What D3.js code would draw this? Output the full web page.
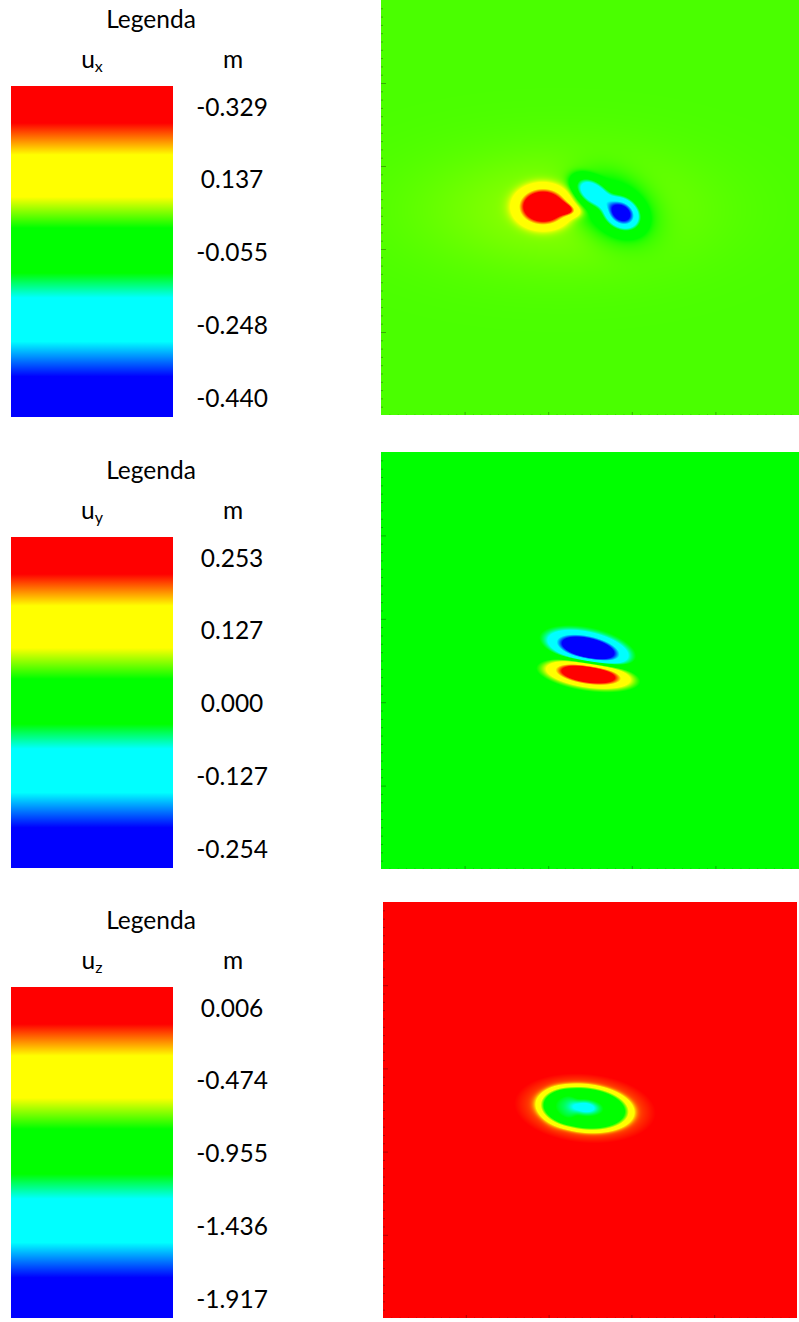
<!DOCTYPE html>
<html>
<head>
<meta charset="utf-8">
<script src="https://cdn.jsdelivr.net/npm/d3@7"></script>
<style>
  html, body { margin: 0; padding: 0; background: #ffffff; }
  svg { display: block; font-family: Lato, "Open Sans", sans-serif; }
</style>
</head>
<body>
<svg id="chart" width="799" height="1322"></svg>
<script>
// ---- Legend labels (as printed) and the numeric values they sit at ----
const uxLabels = ["-0.329", "0.137", "-0.055", "-0.248", "-0.440"];
const uxTicks  = [0.329, 0.137, -0.055, -0.248, -0.440];
const uyLabels = ["0.253", "0.127", "0.000", "-0.127", "-0.254"];
const uyTicks  = [0.253, 0.127, 0.000, -0.127, -0.254];
const uzLabels = ["0.006", "-0.474", "-0.955", "-1.436", "-1.917"];
const uzTicks  = [0.006, -0.474, -0.955, -1.436, -1.917];

// ---- Colour bands of the legend bar, top to bottom ----
const bandOffsets = [0, 0.112, 0.208, 0.335, 0.429, 0.565, 0.64, 0.772, 0.878, 1];
const bandColors  = ["#ff0000", "#ff0000", "#ffff00", "#ffff00", "#00ff00",
                     "#00ff00", "#00ffff", "#00ffff", "#0000ff", "#0000ff"];

// ---- Displacement lobes on a 5 x 5 plan grid ----
// each lobe: [cx, cy, sx, sy, angle (deg), amplitude (m), shape exponent]
const uxBase = 0.033;
const uxLobes = [
  [1.94, 2.51, 0.29, 0.22,   0,  0.40, 2.8],
  [2.21, 2.48, 0.15, 0.07, -12,  0.20, 2.0],
  [2.14, 2.47, 1.60, 0.70,   0,  0.022, 2.0],
  [2.88, 2.43, 0.22, 0.17, -35, -0.42, 2.5],
  [2.52, 2.69, 0.24, 0.145, -35, -0.24, 3.0],
  [2.78, 2.50, 0.45, 0.33, -30, -0.09, 2.0]
];
const uyBase = 0.0;
const uyLobes = [
  [2.48, 2.64, 0.40, 0.15, -13, -0.33, 2.6],
  [2.48, 2.34, 0.45, 0.135, -8,  0.30, 2.6],
  [2.48, 2.75, 0.72, 0.30, -10, -0.04, 2.0],
  [2.48, 2.27, 0.72, 0.26,  -8,  0.04, 2.0]
];
const uzBase = 0.0;
const uzLobes = [
  [2.44, 2.52, 0.556, 0.27, -6, -0.80, 8.0],
  [2.12, 2.54, 0.22,  0.25,  0, -0.08, 6.0],
  [2.44, 2.52, 0.845, 0.41, -5, -0.28, 2.0],
  [2.44, 2.53, 0.15,  0.07, -5, -0.30, 2.0]
];

const gridExtent = [0, 5];

const panels = [
  { labels: uxLabels, ticks: uxTicks, comp: "x", base: uxBase, lobes: uxLobes,
    top: 0,   map: { x: 381, y: 0,   w: 418, h: 415 } },
  { labels: uyLabels, ticks: uyTicks, comp: "y", base: uyBase, lobes: uyLobes,
    top: 451, map: { x: 381, y: 452, w: 418, h: 417 } },
  { labels: uzLabels, ticks: uzTicks, comp: "z", base: uzBase, lobes: uzLobes,
    top: 901, map: { x: 383, y: 902, w: 414, h: 416 } }
];

// legend bar geometry (relative to each panel's top)
const bar = { x: 11, y: 86, w: 162, h: 331 };
const labelOffsets = [21, 312];   // first and last label centre along the bar
const fontSize = 24.5;

const svg = d3.select("#chart");
const defs = svg.append("defs");

// shared gradient for the legend bars
const grad = defs.append("linearGradient")
  .attr("id", "bands").attr("x1", 0).attr("y1", 0).attr("x2", 0).attr("y2", 1);
grad.selectAll("stop").data(bandOffsets).join("stop")
  .attr("offset", d => d)
  .attr("stop-color", (d, i) => bandColors[i]);

const bandScale = d3.scaleLinear().domain(bandOffsets).range(bandColors)
  .interpolate(d3.interpolateRgb).clamp(true);

function fieldValue(lobes, base, x, y) {
  let v = base;
  for (const [cx, cy, sx, sy, ang, amp, p] of lobes) {
    const a = ang * Math.PI / 180, c = Math.cos(a), s = Math.sin(a);
    const dx = x - cx, dy = y - cy;
    const u = (dx * c + dy * s) / sx, w = (-dx * s + dy * c) / sy;
    v += amp * Math.exp(-Math.pow(u * u + w * w, p / 2));
  }
  return v;
}

panels.forEach(P => {
  const g = svg.append("g").attr("transform", `translate(0,${P.top})`);

  // position along the bar for a value, from the printed label spacing
  const barPos = d3.scaleLinear()
    .domain([P.ticks[0], P.ticks[P.ticks.length - 1]])
    .range(labelOffsets);
  const colour = v => bandScale(barPos(v) / bar.h);

  // ---- legend ----
  g.append("text").attr("x", 151).attr("y", 28)
    .attr("text-anchor", "middle").attr("font-size", fontSize).attr("fill", "#000")
    .text("Legenda");
  const sym = g.append("text").attr("x", 92).attr("y", 68)
    .attr("text-anchor", "middle").attr("font-size", fontSize).attr("fill", "#000");
  sym.append("tspan").text("u");
  sym.append("tspan").attr("font-size", 16).attr("dy", 4).text(P.comp);
  g.append("text").attr("x", 233).attr("y", 68)
    .attr("text-anchor", "middle").attr("font-size", fontSize).attr("fill", "#000")
    .text("m");

  g.append("rect").attr("x", bar.x).attr("y", bar.y)
    .attr("width", bar.w).attr("height", bar.h).attr("fill", "url(#bands)");

  g.selectAll("text.lab").data(P.ticks).join("text")
    .attr("class", "lab")
    .attr("x", 232)
    .attr("y", d => bar.y + barPos(d) + 8.5)
    .attr("text-anchor", "middle").attr("font-size", fontSize).attr("fill", "#000")
    .text((d, i) => P.labels[i]);

  // ---- map ----
  const M = P.map;
  const xs = d3.scaleLinear().domain(gridExtent).range([0, M.w]);
  const ys = d3.scaleLinear().domain(gridExtent).range([M.h, 0]);

  const canvas = document.createElement("canvas");
  canvas.width = M.w; canvas.height = M.h;
  const ctx = canvas.getContext("2d");
  const img = ctx.createImageData(M.w, M.h);
  for (let j = 0; j < M.h; j++) {
    const yv = ys.invert(j + 0.5);
    for (let i = 0; i < M.w; i++) {
      const xv = xs.invert(i + 0.5);
      const c = d3.rgb(colour(fieldValue(P.lobes, P.base, xv, yv)));
      const k = (j * M.w + i) * 4;
      img.data[k] = c.r; img.data[k + 1] = c.g; img.data[k + 2] = c.b; img.data[k + 3] = 255;
    }
  }
  ctx.putImageData(img, 0, 0);

  const mg = svg.append("g").attr("transform", `translate(${M.x},${M.y})`);
  mg.append("image")
    .attr("width", M.w).attr("height", M.h)
    .attr("preserveAspectRatio", "none")
    .attr("href", canvas.toDataURL());

  const minor = d3.range(1, 50).filter(i => i % 10 !== 0).map(i => i / 10);
  const major = [1, 2, 3, 4];
  const tickStyle = sel => {
    sel.select(".domain").remove();
    sel.selectAll("line").attr("stroke", "#000").attr("stroke-opacity", 0.3);
  };

  mg.append("g").call(d3.axisLeft(ys).tickValues(minor).tickSize(-2).tickFormat(""))
    .call(tickStyle);
  mg.append("g").call(d3.axisLeft(ys).tickValues(major).tickSize(-5).tickFormat(""))
    .call(tickStyle);
  mg.append("g").attr("transform", `translate(0,${M.h})`)
    .call(d3.axisBottom(xs).tickValues(minor).tickSize(-1).tickFormat(""))
    .call(tickStyle)
    .call(s => s.selectAll("line").attr("stroke-opacity", 0.15));
  mg.append("g").attr("transform", `translate(0,${M.h})`)
    .call(d3.axisBottom(xs).tickValues(major).tickSize(-3).tickFormat(""))
    .call(tickStyle);
});
</script>
</body>
</html>
